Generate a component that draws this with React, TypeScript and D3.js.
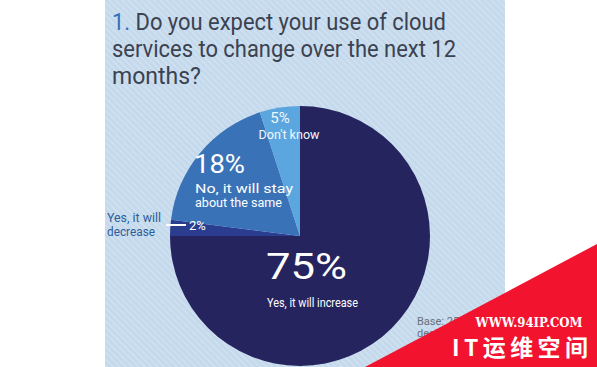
import React from "react";
import * as d3 from "d3";

const categories = ["Yes, it will increase", "Yes, it will decrease", "No, it will stay about the same", "Don't know"];
const values = [75, 2, 18, 5];
const colors = ["#25245f", "#2b3d8e", "#3a72b8", "#5ba6de"];
const titleLines = ["Do you expect your use of cloud", "services to change over the next 12", "months?"];
const baseNote = ["Base: 250 IT", "decision makers"];

const W = 597, H = 367;
const FONT = "Roboto, 'DejaVu Sans', sans-serif";

export default function App() {
  const cx = 300, cy = 236, r = 130;
  const pie = d3.pie<number>().sort(null).value(d => d)(values);
  const arc = d3.arc<d3.PieArcDatum<number>>().innerRadius(0).outerRadius(r);

  return (
    <svg width={W} height={H} style={{ position: "absolute", left: 0, top: 0, display: "block" }}>
      <defs>
        <pattern id="stripes" width="4.5" height="4.5" patternUnits="userSpaceOnUse" patternTransform="rotate(-45)">
          <rect width="4.5" height="4.5" fill="#c5d9ec" />
          <rect x="0" y="0" width="1.4" height="4.5" fill="#d1e2f1" />
        </pattern>
        <clipPath id="panel">
          <rect x={105} y={0} width={400} height={H} />
        </clipPath>
      </defs>
      <rect width={W} height={H} fill="#ffffff" />
      <rect x={105} y={0} width={400} height={H} fill="url(#stripes)" />

      {/* title */}
      <text x={112} y={30} fontFamily={FONT} fontSize={24} fill="#3b4250" textLength={334} lengthAdjust="spacingAndGlyphs">
        <tspan fill="#2f72b8">1. </tspan>{titleLines[0]}
      </text>
      <text x={112} y={57} fontFamily={FONT} fontSize={24} fill="#3b4250" textLength={344} lengthAdjust="spacingAndGlyphs">{titleLines[1]}</text>
      <text x={112} y={84} fontFamily={FONT} fontSize={24} fill="#3b4250" textLength={89} lengthAdjust="spacingAndGlyphs">{titleLines[2]}</text>

      <g clipPath="url(#panel)">
        <g transform={`translate(${cx},${cy})`}>
          {pie.map((p, i) => (
            <path key={i} d={arc(p) || ""} fill={colors[i]} />
          ))}
        </g>
      </g>

      {/* 5% label */}
      <text x={280} y={123} textAnchor="middle" fontFamily={FONT} fontSize={15} fill="#f2f7fc">{values[3]}%</text>
      <text x={289} y={139} textAnchor="middle" fontFamily={FONT} fontSize={12.5} fill="#f2f7fc" textLength={61} lengthAdjust="spacingAndGlyphs">{categories[3]}</text>

      {/* 18% label */}
      <text x={194} y={173} fontFamily={FONT} fontSize={26} fill="#ffffff" textLength={51} lengthAdjust="spacingAndGlyphs">{values[2]}%</text>
      <text x={195} y={193} fontFamily={FONT} fontSize={12.5} fill="#ffffff" textLength={98} lengthAdjust="spacingAndGlyphs">No, it will stay</text>
      <text x={195} y={207} fontFamily={FONT} fontSize={12.5} fill="#ffffff" textLength={87} lengthAdjust="spacingAndGlyphs">about the same</text>

      {/* 2% label */}
      <line x1={166} x2={186} y1={225} y2={225} stroke="#ffffff" strokeWidth={2} />
      <text x={189} y={230} fontFamily={FONT} fontSize={13} fill="#ffffff">{values[1]}%</text>
      <text x={107} y={222} fontFamily={FONT} fontSize={12.5} fill="#2c5e9c" textLength={54} lengthAdjust="spacingAndGlyphs">Yes, it will</text>
      <text x={107} y={236} fontFamily={FONT} fontSize={12.5} fill="#2c5e9c" textLength={48} lengthAdjust="spacingAndGlyphs">decrease</text>

      {/* 75% label */}
      <text x={266} y={279} fontFamily={FONT} fontSize={36} fill="#ffffff" textLength={81} lengthAdjust="spacingAndGlyphs">{values[0]}%</text>
      <text x={267} y={307} fontFamily={FONT} fontSize={13} fill="#ffffff" textLength={91} lengthAdjust="spacingAndGlyphs">{categories[0]}</text>

      {/* base note */}
      <text x={417} y={325} fontFamily={FONT} fontSize={11} fill="#66707c">{baseNote[0]}</text>
      <text x={417} y={337} fontFamily={FONT} fontSize={11} fill="#66707c">{baseNote[1]}</text>

      {/* watermark */}
      <polygon points={`365,${H} ${W},244 ${W},${H}`} fill="#f2142f" />
      <text x={529} y={327} textAnchor="middle" fontFamily="'DejaVu Serif', 'Liberation Serif', serif" fontWeight="bold" fontSize={12} fill="#ffffff" textLength={107} lengthAdjust="spacingAndGlyphs">WWW.94IP.COM</text>
      <text x={520} y={356} textAnchor="middle" fontFamily="'Noto Sans CJK SC', sans-serif" fontWeight="bold" fontSize={23} fill="#ffffff" textLength={136} lengthAdjust="spacing">IT运维空间</text>
    </svg>
  );
}
